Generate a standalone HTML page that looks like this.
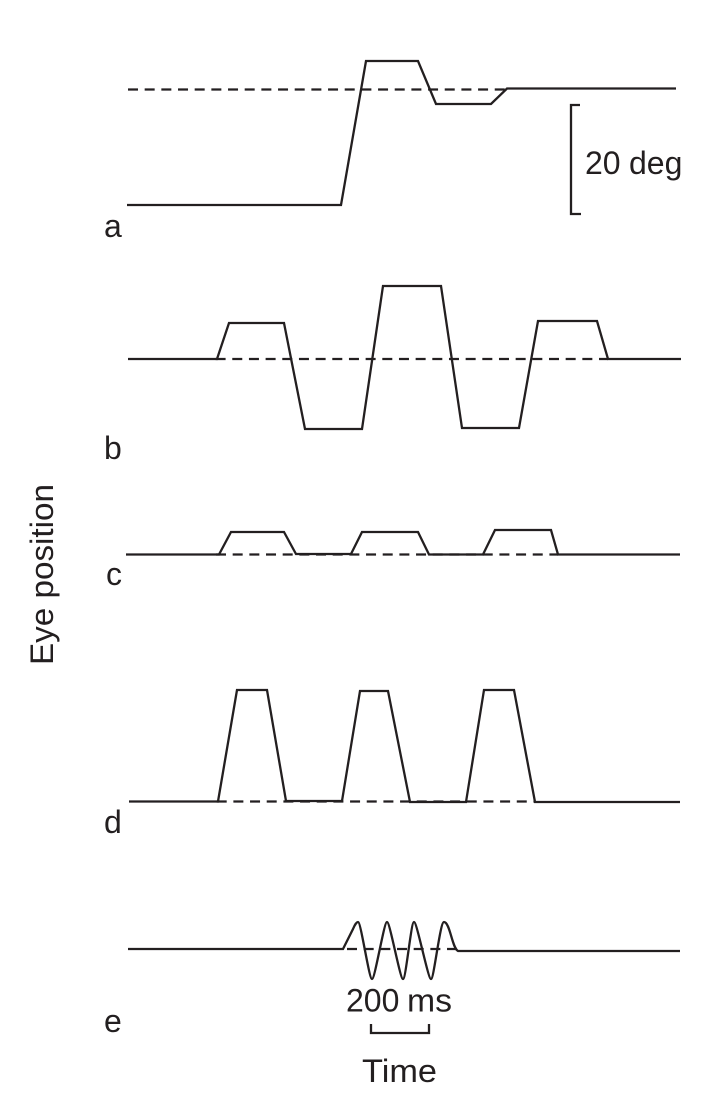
<!DOCTYPE html>
<html>
<head>
<meta charset="utf-8">
<style>
html,body{margin:0;padding:0;background:#fff;}
svg{display:block;}
text{font-family:"Liberation Sans",sans-serif;fill:#231f20;font-size:32px;}
.s{fill:none;stroke:#231f20;stroke-width:2.3;stroke-linejoin:miter;}
.d{fill:none;stroke:#231f20;stroke-width:2.2;stroke-dasharray:10 6.67;}
</style>
</head>
<body>
<svg width="709" height="1101" viewBox="0 0 709 1101" xmlns="http://www.w3.org/2000/svg">
<rect width="709" height="1101" fill="#fff"/>
<!-- a -->
<line class="d" x1="128" y1="89.5" x2="505" y2="89.5"/>
<polyline class="s" points="127,205 341,205 366,61 418,61 436,104 491,104 507,88.5 676,88.5"/>
<polyline class="s" points="580,105 571,105 571,214 581,214"/>
<text y="174"><tspan x="585">20</tspan><tspan x="629">deg</tspan></text>
<text x="104" y="237">a</text>
<!-- b -->
<line class="d" x1="215.6" y1="359" x2="608" y2="359"/>
<polyline class="s" points="128,359 217,359 229,323 284,323 305,429 362,429 383,286 441,286 462,428 519,428 538,321 597,321 608,359 681,359"/>
<text x="104" y="459">b</text>
<!-- c -->
<line class="d" x1="216" y1="554.5" x2="558" y2="554.5"/>
<polyline class="s" points="126,554.5 219,554.5 231,532 284,532 296,554 351,554 362,532 418,532 429,554.5 483,554.5 495,530 551,530 558,554.5 680,554.5"/>
<text x="106" y="585">c</text>
<!-- d -->
<line class="d" x1="216.7" y1="801.5" x2="534" y2="801.5"/>
<polyline class="s" points="129,801.5 218,801.5 237,690 267,690 286,801 342,801 360,691 388,691 410,802 466,802 484,690 514,690 535,802 680,802"/>
<text x="104" y="833">d</text>
<!-- e -->
<line class="d" x1="347" y1="949" x2="457" y2="949"/>
<path class="s" d="M128,949 L343,949 L353,929 C355,924 357,922 358,922 C361,922 369,979 372,979 C375,979 384,922 387,922 C390,922 400,979 403,979 C406,979 411,922 414,922 C417,922 428,979 431,979 C434,979 440,922 444,922 C450,922 452,948 458,951 L680,951"/>
<text y="1011.5"><tspan x="346">200</tspan><tspan x="407" textLength="45" lengthAdjust="spacingAndGlyphs">ms</tspan></text>
<polyline class="s" points="371,1024 371,1033 429,1033 429,1024"/>
<text x="362" y="1082" textLength="75" lengthAdjust="spacingAndGlyphs">Time</text>
<text x="104" y="1032">e</text>
<!-- y label -->
<text transform="translate(53,665) rotate(-90)" textLength="181" lengthAdjust="spacingAndGlyphs">Eye position</text>
</svg>
</body>
</html>
